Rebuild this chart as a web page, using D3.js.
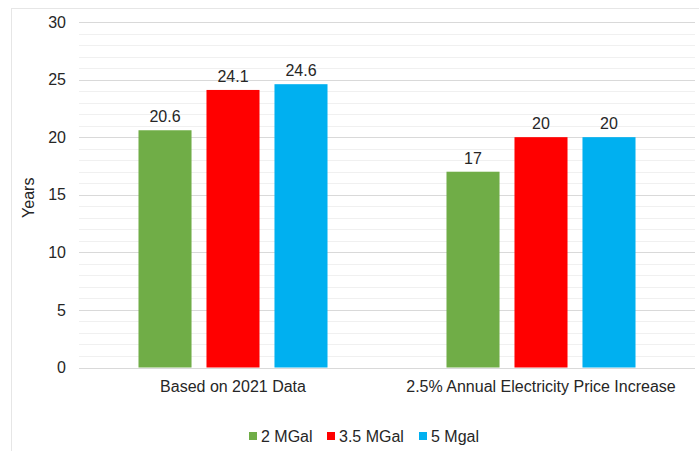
<!DOCTYPE html>
<html>
<head>
<meta charset="utf-8">
<script src="https://cdn.jsdelivr.net/npm/d3@7"></script>
<style>
  body { margin: 0; background: #fff; }
  text { font-family: "Liberation Sans", Arial, sans-serif; fill: #262626; }
</style>
</head>
<body>
<svg id="chart" width="699" height="451"></svg>
<script>
// Payback period by storage size and electricity price scenario
const categories = ["Based on 2021 Data", "2.5% Annual Electricity Price Increase"];
const seriesNames = ["2 MGal", "3.5 MGal", "5 Mgal"];
const seriesColors = ["#70AD47", "#FF0000", "#00B0F0"];
const mgal2 = [20.6, 17];
const mgal35 = [24.1, 20];
const mgal5 = [24.6, 20];
const seriesValues = [mgal2, mgal35, mgal5];
const yTicks = [0, 5, 10, 15, 20, 25, 30];

const svg = d3.select("#chart");
const W = 699, H = 451;
const m = { left: 79, right: 4, top: 22, bottom: 83 };

// outer frame
svg.append("rect")
  .attr("x", 11.5).attr("y", 8.5)
  .attr("width", W + 10).attr("height", H + 10)
  .attr("fill", "none").attr("stroke", "#e6e6e6");

const x0 = d3.scaleBand().domain(categories)
  .range([m.left, W - m.right]).paddingInner(0).paddingOuter(0);
const x1 = d3.scaleBand().domain(seriesNames)
  .range([0, x0.bandwidth()]).paddingInner(0.22).paddingOuter(0.875);
const y = d3.scaleLinear().domain([0, 30]).range([H - m.bottom - 0.5, m.top]);

// minor gridlines
svg.append("g").selectAll("line")
  .data(d3.range(0, 31, 1).filter(v => v % 5 !== 0))
  .join("line")
  .attr("x1", m.left).attr("x2", W - m.right)
  .attr("y1", d => Math.round(y(d)) + 0.5).attr("y2", d => Math.round(y(d)) + 0.5)
  .attr("stroke", "#f0f0f0");

// major gridlines
svg.append("g").selectAll("line")
  .data(yTicks)
  .join("line")
  .attr("x1", m.left).attr("x2", W - m.right)
  .attr("y1", d => Math.round(y(d)) + 0.5).attr("y2", d => Math.round(y(d)) + 0.5)
  .attr("stroke", "#d9d9d9");

// y axis labels
const yAxis = svg.append("g")
  .attr("transform", `translate(${m.left - 13},0)`)
  .call(d3.axisLeft(y).tickValues(yTicks).tickSize(0).tickPadding(0));
yAxis.select(".domain").remove();
yAxis.selectAll("text")
  .style("font-family", "'Liberation Sans', Arial, sans-serif")
  .style("font-size", "16px").attr("fill", "#262626");

// axis title
svg.append("text")
  .attr("transform", `translate(34,${(y(30) + y(0)) / 2 + 3}) rotate(-90)`)
  .attr("text-anchor", "middle")
  .style("font-size", "16px")
  .text("Years");

// bars
const groups = svg.append("g").selectAll("g")
  .data(categories)
  .join("g")
  .attr("transform", d => `translate(${x0(d)},0)`);

groups.selectAll("rect")
  .data((c, ci) => seriesNames.map((s, si) => ({ s, si, v: seriesValues[si][ci] })))
  .join("rect")
  .attr("x", d => x1(d.s))
  .attr("width", x1.bandwidth())
  .attr("y", d => y(d.v))
  .attr("height", d => y(0) - y(d.v))
  .attr("fill", d => seriesColors[d.si]);

groups.selectAll("text.val")
  .data((c, ci) => seriesNames.map((s, si) => ({ s, si, v: seriesValues[si][ci] })))
  .join("text")
  .attr("class", "val")
  .attr("x", d => x1(d.s) + x1.bandwidth() / 2)
  .attr("y", d => y(d.v) - 8)
  .attr("text-anchor", "middle")
  .style("font-size", "16px")
  .text(d => d.v);

// category labels
const xAxis = svg.append("g")
  .attr("transform", `translate(0,${y(0)})`)
  .call(d3.axisBottom(x0).tickSize(0).tickPadding(13));
xAxis.select(".domain").remove();
xAxis.selectAll("text")
  .style("font-family", "'Liberation Sans', Arial, sans-serif")
  .style("font-size", "16px").attr("fill", "#262626");

// legend row
const legendX = [249, 327, 419];
const items = svg.append("g").selectAll("g")
  .data(seriesNames)
  .join("g")
  .attr("transform", (d, i) => `translate(${legendX[i]},0)`);
items.append("rect")
  .attr("width", 8).attr("height", 8)
  .attr("y", 432)
  .attr("fill", (d, i) => seriesColors[i]);
items.append("text")
  .attr("x", 12).attr("y", 442)
  .style("font-size", "16px")
  .text(d => d);
</script>
</body>
</html>
